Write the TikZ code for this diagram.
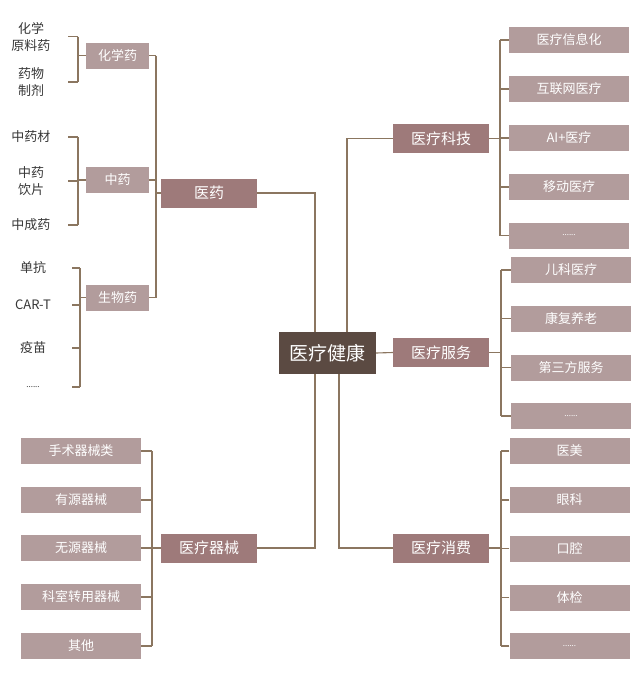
\documentclass[tikz,border=0pt]{standalone}
\usepackage{fontspec}
\setmainfont{Noto Sans CJK SC}
\usepackage{xcolor}
\definecolor{rootbrown}{RGB}{91,74,66}
\definecolor{midrose}{RGB}{158,122,122}
\definecolor{leafrose}{RGB}{178,156,156}
\definecolor{linkbrown}{RGB}{139,118,96}
\definecolor{leafgray}{RGB}{55,55,55}
\tikzset{%
    root/.style={fill=rootbrown, text=white, minimum width=97pt, minimum height=42pt,
        inner sep=0pt, font=\fontsize{19}{21}\selectfont},
    branch/.style={fill=midrose, text=white, minimum width=96pt, minimum height=29pt,
        inner sep=0pt, font=\fontsize{15}{17}\selectfont},
    twig/.style={fill=leafrose, text=white, minimum width=63pt, minimum height=26pt,
        inner sep=0pt, font=\fontsize{13}{15}\selectfont},
    leaf/.style={fill=leafrose, text=white, minimum width=120pt, minimum height=26pt,
        inner sep=0pt, font=\fontsize{13}{15}\selectfont},
    plain/.style={text=leafgray, align=center, inner sep=0pt, font=\fontsize{13}{17}\selectfont},
    link/.style={draw=linkbrown, line width=1.1pt}
}
\newcommand{\moredots}{{\fontsize{8}{9}\selectfont ......}}

\begin{document}
\begin{tikzpicture}[x=1pt,y=-1pt]
    \useasboundingbox[fill=white] (0,0) rectangle (641,680);
    % centre and main branches
    \node[root] (yljk) at (327.5,353) {医疗健康};
    \node[branch] (yy) at (209,193) {医药};
    \node[branch] (qx) at (209,548) {医疗器械};
    \node[branch] (kj) at (441,138.5) {医疗科技};
    \node[branch] (fw) at (441,352.5) {医疗服务};
    \node[branch] (xf) at (441,548) {医疗消费};
    \draw[link] (yy.east) -| ([xshift=-12.5pt]yljk.north);
    \draw[link] (kj.west) -| ([xshift=19.5pt]yljk.north);
    \draw[link] (yljk.east) -- (fw.west);
    \draw[link] (qx.east) -| ([xshift=-12.5pt]yljk.south);
    \draw[link] (xf.west) -| ([xshift=11.5pt]yljk.south);

    % 医药
    \node[twig] (hx) at (117.5,55.5) {化学药};
    \node[twig] (zy) at (117.5,180) {中药};
    \node[twig] (sw) at (117.5,297.5) {生物药};
    \coordinate (yybus) at (156,193);
    \draw[link] (yy.west) -- (yybus);
    \draw[link] (hx.east -| yybus) -- (sw.east -| yybus);
    \foreach \t in {hx,zy,sw}
        \draw[link] (\t.east) -- (\t.east -| yybus);

    \node[plain] (hx1) at (31,36.5) {化学\\原料药};
    \node[plain] (hx2) at (31,82) {药物\\制剂};
    \node[plain] (zy1) at (31,137) {中药材};
    \node[plain] (zy2) at (31,181) {中药\\饮片};
    \node[plain] (zy3) at (31,225) {中成药};
    \node[plain] (sw1) at (33,268) {单抗};
    \node[plain] (sw2) at (33,305) {CAR-T};
    \node[plain] (sw3) at (33,348) {疫苗};
    \node[plain] (sw4) at (33,387) {\moredots};
    \coordinate (hxtick) at (68,0);
    \coordinate (hxbus) at (78,0);
    \coordinate (swtick) at (72,0);
    \coordinate (swbus) at (80,0);
    \draw[link] (hx1 -| hxbus) -- (hx2 -| hxbus);
    \draw[link] (zy1 -| hxbus) -- (zy3 -| hxbus);
    \draw[link] (sw1 -| swbus) -- (sw4 -| swbus);
    \foreach \t in {hx1,hx2,zy1,zy2,zy3}
        \draw[link] (\t -| hxtick) -- (\t -| hxbus);
    \foreach \t in {sw1,sw2,sw3,sw4}
        \draw[link] (\t -| swtick) -- (\t -| swbus);
    \draw[link] (hx.west) -- (hx.west -| hxbus);
    \draw[link] (zy.west) -- (zy.west -| hxbus);
    \draw[link] (sw.west) -- (sw.west -| swbus);

    % 医疗器械
    \node[leaf] (qx1) at (81,451) {手术器械类};
    \node[leaf] (qx2) at (81,500) {有源器械};
    \node[leaf] (qx3) at (81,548) {无源器械};
    \node[leaf] (qx4) at (81,597) {科室转用器械};
    \node[leaf] (qx5) at (81,646) {其他};
    \coordinate (qxbus) at (152,548);
    \draw[link] (qx.west) -- (qxbus);
    \draw[link] (qx1.east -| qxbus) -- (qx5.east -| qxbus);
    \foreach \i in {1,...,5}
        \draw[link] (qx\i.east) -- (qx\i.east -| qxbus);

    % 医疗科技
    \node[leaf] (kj1) at (569,40) {医疗信息化};
    \node[leaf] (kj2) at (569,89) {互联网医疗};
    \node[leaf] (kj3) at (569,138) {AI+医疗};
    \node[leaf] (kj4) at (569,187) {移动医疗};
    \node[leaf] (kj5) at (569,235.5) {\moredots};
    \coordinate (kjbus) at (500,138.5);
    \draw[link] (kj.east) -- (kjbus);
    \draw[link] (kj1.west -| kjbus) -- (kj5.west -| kjbus);
    \foreach \i in {1,...,5}
        \draw[link] (kj\i.west) -- (kj\i.west -| kjbus);

    % 医疗服务
    \node[leaf] (fw1) at (571,270) {儿科医疗};
    \node[leaf] (fw2) at (571,318.5) {康复养老};
    \node[leaf] (fw3) at (571,367.5) {第三方服务};
    \node[leaf] (fw4) at (571,416) {\moredots};
    \coordinate (fwbus) at (501,352.5);
    \draw[link] (fw.east) -- (fwbus);
    \draw[link] (fw1.west -| fwbus) -- (fw4.west -| fwbus);
    \foreach \i in {1,...,4}
        \draw[link] (fw\i.west) -- (fw\i.west -| fwbus);

    % 医疗消费
    \node[leaf] (xf1) at (569.5,451) {医美};
    \node[leaf] (xf2) at (569.5,500) {眼科};
    \node[leaf] (xf3) at (569.5,548.5) {口腔};
    \node[leaf] (xf4) at (569.5,597.5) {体检};
    \node[leaf] (xf5) at (569.5,646) {\moredots};
    \coordinate (xfbus) at (501,548);
    \draw[link] (xf.east) -- (xfbus);
    \draw[link] (xf1.west -| xfbus) -- (xf5.west -| xfbus);
    \foreach \i in {1,...,5}
        \draw[link] (xf\i.west) -- (xf\i.west -| xfbus);
\end{tikzpicture}
\end{document}
